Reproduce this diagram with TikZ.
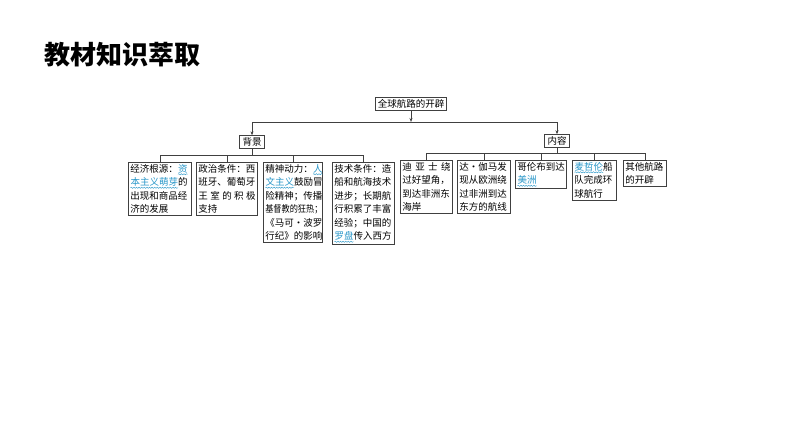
\documentclass[tikz,border=0pt]{standalone}
\usepackage{fontspec}
\setmainfont{Noto Sans CJK SC}
\usepackage{xcolor}
\usepackage{graphicx}
\usetikzlibrary{arrows.meta,decorations.pathmorphing}
\definecolor{keyblue}{RGB}{40,150,200}
\newcommand{\keyword}[1]{\tikz[baseline=(kw.base)]{\node[inner sep=0pt, outer sep=0pt, anchor=center, text width={}, align=left, text=keyblue] (kw) {#1};
	\draw[keyblue, line width=0.4pt, decorate, decoration={snake,amplitude=0.6pt,segment length=2.6pt}] ([yshift=-1.2pt]kw.south west) -- ([yshift=-1.2pt]kw.south east);}}

\begin{document}
\begin{tikzpicture}[x=1pt,y=-1pt,
		box/.style={draw=black!75, line width=0.6pt, font=\fontsize{9.5}{13.5}\selectfont, inner sep=2pt},
		leaf/.style={box, anchor=north west, align=left, text width=#1},
		link/.style={draw=black!75, line width=0.6pt},
		arr/.style={link, -{Stealth[length=4pt,width=3pt]}}]
		\useasboundingbox (0,0) rectangle (794,447);
		
		\node[anchor=west, inner sep=0pt, font=\fontsize{26}{26}\selectfont\bfseries] (title) at (44,55) {教材知识萃取};
		
		\node[box, inner xsep=2.5pt] (root) at (411,104) {全球航路的开辟};
		\node[box, inner xsep=3pt] (bg) at (252,142) {背景};
		\node[box, inner xsep=3pt] (nr) at (557,141) {内容};
		
		\coordinate (bus1) at (0,122);
		\coordinate (bus2) at (0,155);
		\coordinate (bus3) at (0,153);
		
		% background
		\node[leaf=59.4pt] (l1) at (128,162) {经济根源：\keyword{资}\\\keyword{本主义萌芽}的\\出现和商品经\\济的发展};
		\node[leaf=57.4pt] (l2) at (196,162) {政治条件：西\\班牙、葡萄牙\\王\hfill 室\hfill 的\hfill 积\hfill 极\\支持};
		\node[leaf=55.4pt] (l3) at (263,162) {精神动力：\keyword{人}\\\keyword{文主义}鼓励冒\\险精神；传播\\\scalebox{0.86}[1]{基督教的狂热；}\\《马可·波罗\\行纪》的影响};
		\node[leaf=58.4pt] (l4) at (332,162) {技术条件：造\\船和航海技术\\进步；长期航\\行积累了丰富\\经验；中国的\\\keyword{罗盘}传入西方};
		
		% content
		\node[leaf=48.4pt] (l5) at (400,160) {迪\hfill 亚\hfill 士\hfill 绕\\过好望角，\\到达非洲东\\海岸};
		\node[leaf=49.4pt] (l6) at (457,160) {达·伽马发\\现从欧洲绕\\过非洲到达\\东方的航线};
		\node[leaf=47.4pt] (l7) at (515,160) {哥伦布到达\\\keyword{美洲}};
		\node[leaf=40.4pt] (l8) at (572,160) {\keyword{麦哲伦}船\\队完成环\\球航行};
		\node[leaf=39.4pt] (l9) at (623,160) {其他航路\\的开辟};
		
		\draw[arr] (root.south) -- (root.south |- bus1);
		\draw[link] (bg.north |- bus1) -- (nr.north |- bus1);
		\draw[arr] (bg.north |- bus1) -- (bg.north);
		\draw[arr] (nr.north |- bus1) -- (nr.north);
		
		\draw[link] (bg.south) -- (bg.south |- bus2);
		\draw[link] (l1.north |- bus2) -- (l4.north |- bus2);
		\foreach \n in {l1,l2,l3,l4}
			\draw[link] (\n.north |- bus2) -- (\n.north);
		
		\draw[link] (nr.south) -- (nr.south |- bus3);
		\draw[link] (l5.north |- bus3) -- (l9.north |- bus3);
		\foreach \n in {l5,l6,l7,l8,l9}
			\draw[link] (\n.north |- bus3) -- (\n.north);
		
	\end{tikzpicture}
\end{document}
